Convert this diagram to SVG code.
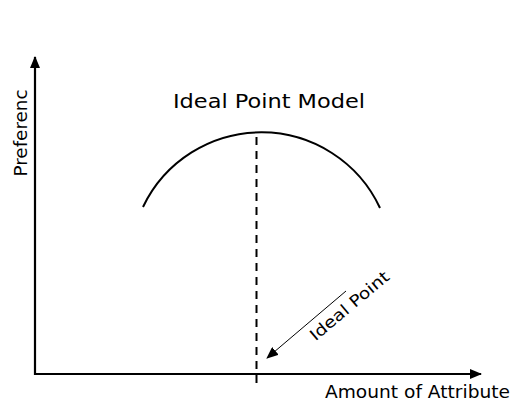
<svg xmlns="http://www.w3.org/2000/svg" width="515" height="405" viewBox="0 0 515 405">
<style>
  .ax{stroke:#000;stroke-width:2.2;fill:none}
  .t{font-family:"DejaVu Sans","Open Sans",sans-serif;fill:#000}
</style>
<defs>
  <marker id="ah2" markerWidth="12" markerHeight="10" refX="11" refY="5" orient="auto" markerUnits="userSpaceOnUse"><path d="M0,0 L12,5 L0,10 Z" fill="#000"/></marker>
</defs>
<rect width="515" height="405" fill="#fff"/>
<g id="axes">
  <line class="ax" x1="35" y1="375" x2="35" y2="57" marker-end="url(#ah2)"/>
  <line class="ax" x1="34" y1="374" x2="481" y2="374" marker-end="url(#ah2)"/>
</g>
<g id="curve">
  <path d="M143 207 A131 131 0 0 1 380 208" fill="none" stroke="#000" stroke-width="2"/>
</g>
<g id="connectors">
  <line x1="256.5" y1="137" x2="256.5" y2="386" stroke="#000" stroke-width="2" stroke-dasharray="8,6"/>
  <line x1="346" y1="291" x2="267" y2="358" stroke="#000" stroke-width="1" marker-end="url(#ah2)"/>
</g>
<g id="labels">
  <text class="t" x="269" y="108" font-size="20" text-anchor="middle" textLength="192" lengthAdjust="spacingAndGlyphs">Ideal Point Model</text>
  <text class="t" transform="translate(27,133) rotate(-90)" font-size="17" text-anchor="middle" textLength="87" lengthAdjust="spacingAndGlyphs">Preferenc</text>
  <text class="t" x="325" y="398" font-size="17" textLength="185" lengthAdjust="spacingAndGlyphs">Amount of Attribute</text>
  <text class="t" transform="translate(353,310) rotate(-40)" font-size="16" text-anchor="middle" textLength="98" lengthAdjust="spacingAndGlyphs">Ideal Point</text>
</g>
</svg>
